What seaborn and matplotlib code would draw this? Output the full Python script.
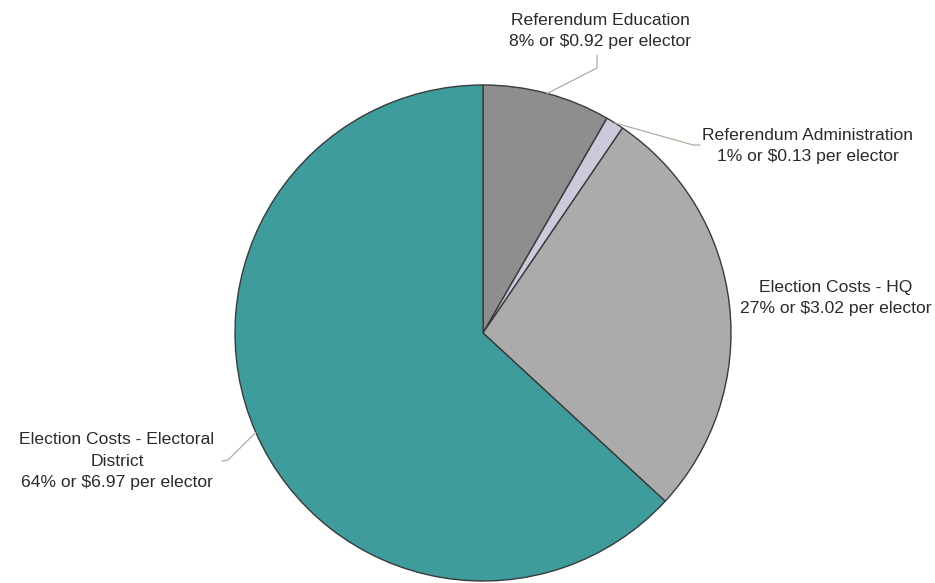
import numpy as np
import matplotlib
matplotlib.use("Agg")
import matplotlib.pyplot as plt
import seaborn as sns

categories = ["Referendum Education", "Referendum Administration",
              "Election Costs - HQ", "Election Costs - Electoral\nDistrict"]
per_elector = [0.92, 0.13, 3.02, 6.97]
percents = [8, 1, 27, 64]
colors = ["#8e8e8e", "#cacadc", "#ababab", "#3e9c9c"]

sns.set_theme(style="white")
plt.rcParams['font.family'] = ['Liberation Sans', 'DejaVu Sans']

W, H = 935, 583
fig = plt.figure(figsize=(W / 100, H / 100), dpi=100)
ax = fig.add_axes([0, 0, 1, 1])

cx, cy, R = 483, H - 333, 248
wedges, _ = ax.pie(per_elector, colors=colors, startangle=90, counterclock=False,
                   center=(cx, cy), radius=R, frame=True,
                   wedgeprops=dict(edgecolor="#3a3a3a", linewidth=1.0))
ax.set_xlim(0, W)
ax.set_ylim(0, H)
ax.set_aspect("equal")
ax.axis("off")

labels = [f"{c}\n{p}% or ${v:.2f} per elector" for c, p, v in zip(categories, percents, per_elector)]
text_pos = [(600, H - 31), (808, H - 146), (836, H - 298), (117, H - 461)]
# elbow points of leader lines (layout), None = no leader
elbows = [[(597, H - 68), (597, H - 55)],
          [(693, H - 145), (700, H - 145)],
          None,
          [(228, H - 460), (222, H - 461)]]
line_col = "#b8aaa0"
for w, lab, tp, el in zip(wedges, labels, text_pos, elbows):
    ax.text(tp[0], tp[1], lab, ha="center", va="center", fontsize=12.6,
            color="#2a2a2a", linespacing=1.5)
    if el is not None:
        mid = np.deg2rad((w.theta1 + w.theta2) / 2)
        sx, sy = cx + R * np.cos(mid), cy + R * np.sin(mid)
        xs = [sx] + [p[0] for p in el]
        ys = [sy] + [p[1] for p in el]
        ax.plot(xs, ys, color=line_col, lw=0.9)

fig.savefig("out.png", dpi=100)
